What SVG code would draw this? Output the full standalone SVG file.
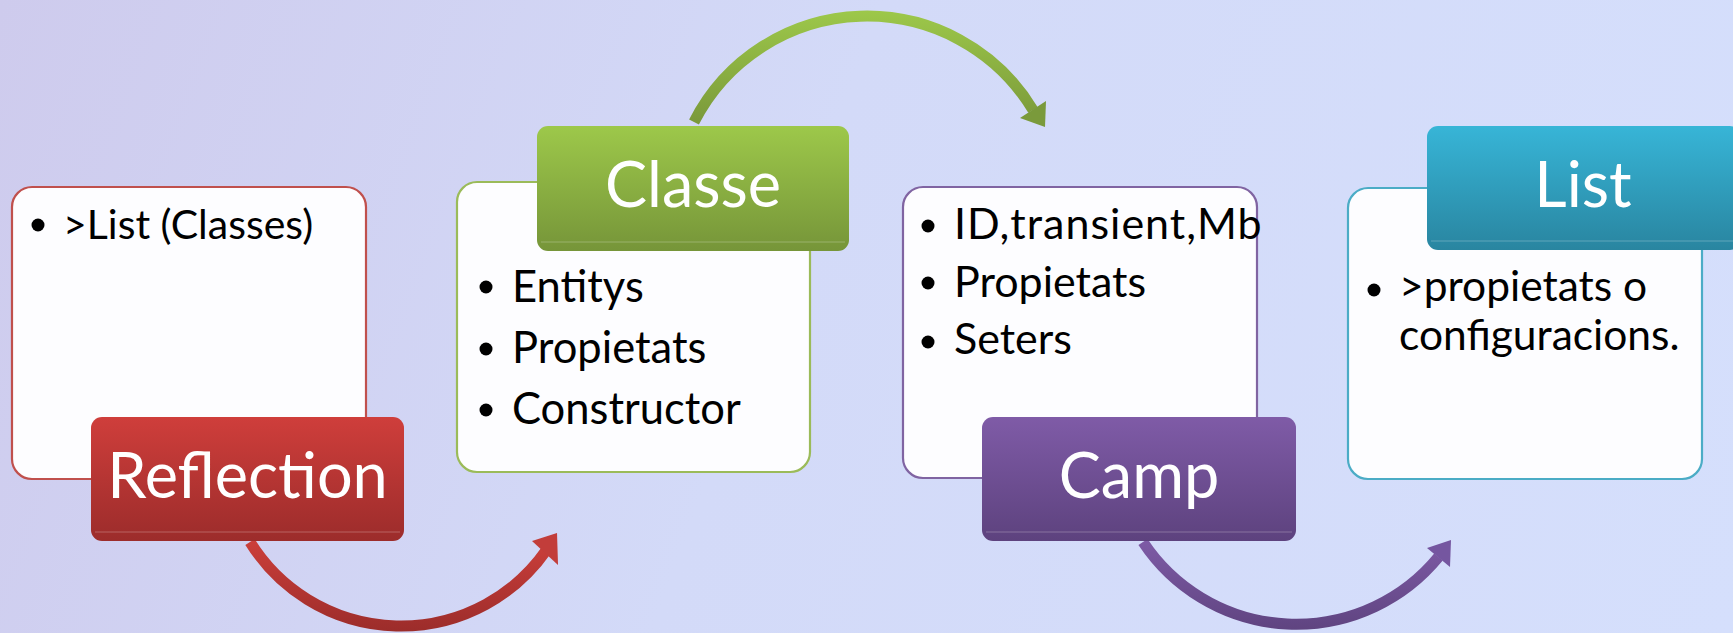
<svg xmlns="http://www.w3.org/2000/svg" width="1733" height="633" viewBox="0 0 1733 633">
<defs>
<linearGradient id="bg" x1="0" y1="0" x2="1733" y2="633" gradientUnits="userSpaceOnUse">
<stop offset="0" stop-color="#cecbed"/><stop offset="0.45" stop-color="#d3daf8"/><stop offset="1" stop-color="#d5dffc"/>
</linearGradient>
<linearGradient id="gRed" x1="0" y1="0" x2="0" y2="1"><stop offset="0" stop-color="#cf3e3b"/><stop offset="1" stop-color="#9c2c2b"/></linearGradient>
<linearGradient id="gGreen" x1="0" y1="0" x2="0" y2="1"><stop offset="0" stop-color="#9dc84a"/><stop offset="1" stop-color="#769539"/></linearGradient>
<linearGradient id="gPurple" x1="0" y1="0" x2="0" y2="1"><stop offset="0" stop-color="#7f5ba7"/><stop offset="1" stop-color="#5d427e"/></linearGradient>
<linearGradient id="gBlue" x1="0" y1="0" x2="0" y2="1"><stop offset="0" stop-color="#37b5d7"/><stop offset="1" stop-color="#2985a0"/></linearGradient>
<linearGradient id="aRed" x1="0" y1="540" x2="0" y2="633" gradientUnits="userSpaceOnUse"><stop offset="0" stop-color="#cc3f3b"/><stop offset="1" stop-color="#9b2c2a"/></linearGradient>
<linearGradient id="aGreen" x1="0" y1="10" x2="0" y2="130" gradientUnits="userSpaceOnUse"><stop offset="0" stop-color="#9dc84a"/><stop offset="1" stop-color="#789639"/></linearGradient>
<linearGradient id="aPurple" x1="0" y1="540" x2="0" y2="633" gradientUnits="userSpaceOnUse"><stop offset="0" stop-color="#7e5ba6"/><stop offset="1" stop-color="#5e437f"/></linearGradient>
</defs>
<style>
.body{fill:#fdfdff;stroke-width:2.2}
.title{font-family:Lato,"Liberation Sans",sans-serif;font-size:63px;fill:#ffffff;text-anchor:middle}
.item{font-family:Lato,"Liberation Sans",sans-serif;fill:#000000}
.bevel{stroke:#ffffff;stroke-opacity:0.25;stroke-width:1.2}
.arc{fill:none;stroke-width:11}
</style>
<rect x="0" y="0" width="1733" height="633" fill="url(#bg)"/>

<g id="connectors">
<path class="arc" stroke="url(#aRed)" d="M250,542 A177.5,177.5 0 0 0 546.5,550"/>
<polygon fill="#c23d3a" points="557,533 558,565 532,541"/>
<path class="arc" stroke="url(#aGreen)" d="M694,122 A194,194 0 0 1 1033,110"/>
<polygon fill="#7a9a3b" points="1045,127 1046,101 1020,118"/>
<path class="arc" stroke="url(#aPurple)" d="M1143,542 A184,184 0 0 0 1438.5,557"/>
<polygon fill="#7556a0" points="1451,540 1450,567 1427,548"/>
</g>

<g id="node-reflection">
<rect class="body" x="12" y="187" width="354" height="292" rx="20" stroke="#c0504d"/>
<circle cx="38" cy="225" r="6.5"/>
<text class="item" x="63" y="239" font-size="41">&gt;List (Classes)</text>
<rect x="91" y="417" width="313" height="124" rx="11" fill="url(#gRed)"/>
<line class="bevel" x1="95" y1="532" x2="400" y2="532"/>
<text class="title" x="247.5" y="498">Reflection</text>
</g>

<g id="node-classe">
<rect class="body" x="457" y="182" width="353" height="290" rx="20" stroke="#9bbb59"/>
<circle cx="486" cy="287" r="6.5"/>
<circle cx="486" cy="349" r="6.5"/>
<circle cx="486" cy="410" r="6.5"/>
<text class="item" font-size="43.5"><tspan x="512" y="302">Entitys</tspan><tspan x="512" y="363">Propietats</tspan><tspan x="512" y="424">Constructor</tspan></text>
<rect x="537" y="126" width="312" height="125" rx="11" fill="url(#gGreen)"/>
<line class="bevel" x1="541" y1="242" x2="845" y2="242"/>
<text class="title" x="693" y="207">Classe</text>
</g>

<g id="node-camp">
<rect class="body" x="903" y="187" width="354" height="291" rx="20" stroke="#8064a2"/>
<circle cx="928" cy="226" r="6.5"/>
<circle cx="928" cy="283" r="6.5"/>
<circle cx="928" cy="342" r="6.5"/>
<text class="item" font-size="43"><tspan x="954" y="239" letter-spacing="1">ID,transient,Mb</tspan><tspan x="954" y="297">Propietats</tspan><tspan x="954" y="354">Seters</tspan></text>
<rect x="982" y="417" width="314" height="124" rx="11" fill="url(#gPurple)"/>
<line class="bevel" x1="986" y1="532" x2="1292" y2="532"/>
<text class="title" x="1139" y="498">Camp</text>
</g>

<g id="node-list">
<rect class="body" x="1348" y="188" width="354" height="291" rx="20" stroke="#4bacc6"/>
<circle cx="1374" cy="290" r="6.5"/>
<text class="item" font-size="42.5"><tspan x="1399" y="301">&gt;propietats o</tspan><tspan x="1399" y="350">configuracions.</tspan></text>
<rect x="1427" y="126" width="314" height="124" rx="11" fill="url(#gBlue)"/>
<line class="bevel" x1="1431" y1="241" x2="1737" y2="241"/>
<text class="title" x="1583" y="207">List</text>
</g>
</svg>
